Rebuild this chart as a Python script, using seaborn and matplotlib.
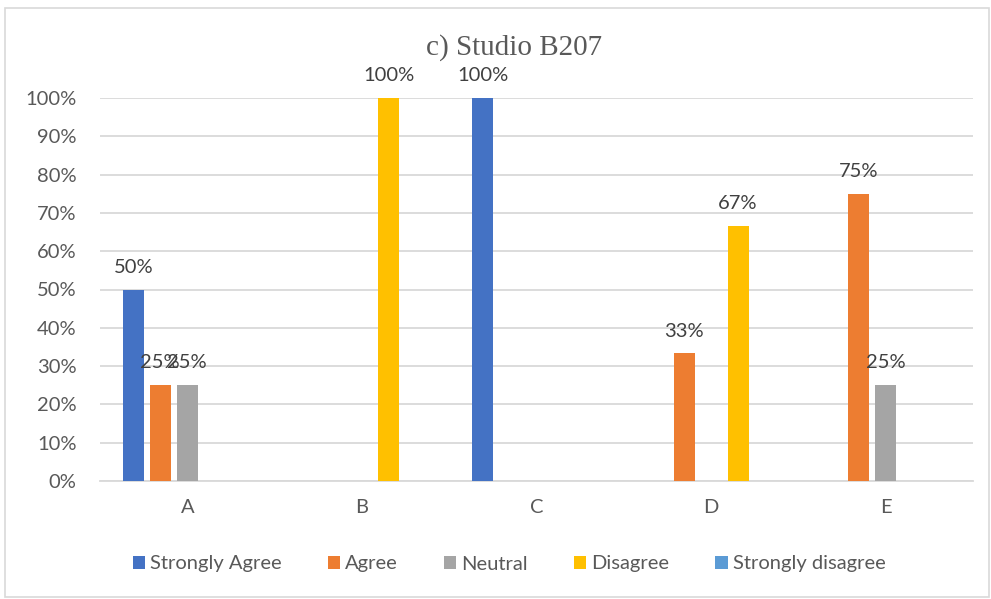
import matplotlib
matplotlib.use("Agg")
import matplotlib.pyplot as plt
from matplotlib.patches import Rectangle, Patch
import seaborn as sns
import pandas as pd

categories = ["A", "B", "C", "D", "E"]
responses = ["Strongly Agree", "Agree", "Neutral", "Disagree", "Strongly disagree"]
strongly_agree = [50, 0, 100, 0, 0]
agree = [25, 0, 0, 33.3, 75]
neutral = [25, 0, 0, 0, 25]
disagree = [0, 100, 0, 66.7, 0]
strongly_disagree = [0, 0, 0, 0, 0]
yticks = [0, 10, 20, 30, 40, 50, 60, 70, 80, 90, 100]
title = "c) Studio B207"

colors = ["#4472C4", "#ED7D31", "#A5A5A5", "#FFC000", "#5B9BD5"]
series = [strongly_agree, agree, neutral, disagree, strongly_disagree]

rows = []
for resp, vals in zip(responses, series):
    for cat, v in zip(categories, vals):
        rows.append({"Item": cat, "Response": resp, "Percent": v})
df = pd.DataFrame(rows)

sns.set_theme(style="white")
plt.rcParams["font.family"] = ["Lato", "DejaVu Sans"]

W, H = 991, 599
fig = plt.figure(figsize=(W / 100, H / 100), dpi=100)
ax = fig.add_axes([100 / W, 1 - 481 / H, (973 - 100) / W, (481 - 98) / H])

sns.barplot(data=df, x="Item", y="Percent", hue="Response", order=categories,
            hue_order=responses, palette=colors, saturation=1, width=0.773, gap=0.22,
            linewidth=0, ax=ax, legend=False, zorder=3)

ax.set_ylim(0, 100)
ax.set_xlim(-0.5, len(categories) - 0.5)
ax.set_yticks(yticks)
ax.set_yticklabels([f"{t}%" for t in yticks])
ax.yaxis.grid(True, color="#D9D9D9", linewidth=1.3, zorder=0)
ax.set_axisbelow(True)
for s in ["top", "right", "left"]:
    ax.spines[s].set_visible(False)
ax.spines["bottom"].set_color("#D9D9D9")
ax.spines["bottom"].set_linewidth(1.3)
ax.set_xlabel("")
ax.set_ylabel("")
ax.tick_params(axis="both", length=0, labelsize=14.5, colors="#595959")
ax.tick_params(axis="y", pad=17)
ax.tick_params(axis="x", pad=13)

for cont, vals in zip(ax.containers, series):
    labels = [f"{v:.0f}%" if v > 0 else "" for v in vals]
    ax.bar_label(cont, labels=labels, padding=10, fontsize=14.5, color="#404040")

fig.text(514 / W, 1 - 48 / H, title, ha="center", va="center",
         fontsize=21, color="#595959", family=["Liberation Serif"])

handles = [Patch(facecolor=c, edgecolor="none") for c in colors]
fig.legend(handles, responses, loc="center", bbox_to_anchor=(509 / W, 1 - 564 / H),
           ncol=5, frameon=False, fontsize=14.5, handlelength=0.6, handleheight=0.6,
           handletextpad=0.25, columnspacing=2.3, labelcolor="#595959")

fig.patches.append(Rectangle((5 / W, 1 - 597 / H), (989 - 5) / W, (597 - 8) / H,
                             transform=fig.transFigure, fill=False,
                             edgecolor="#D9D9D9", linewidth=1.2))

fig.savefig("out.png", dpi=100, facecolor="white")
